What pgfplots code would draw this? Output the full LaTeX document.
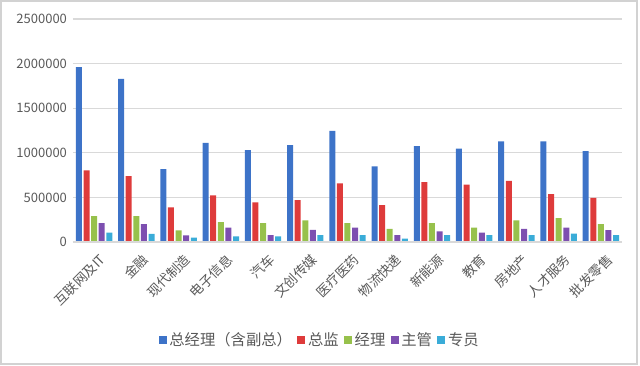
\documentclass[border=0pt]{standalone}
\usepackage{pgfplots}
\pgfplotsset{compat=1.18}
\usepackage{fontspec}
\setmainfont{Noto Sans CJK SC}
\definecolor{cblue}{HTML}{3D73C8}
\definecolor{cred}{HTML}{DE3B3B}
\definecolor{cgreen}{HTML}{97C14C}
\definecolor{cpurple}{HTML}{7D4FB0}
\definecolor{ccyan}{HTML}{3AACD8}
\definecolor{tickgray}{HTML}{595959}
\definecolor{gridgray}{HTML}{D9D9D9}
\begin{document}
\begin{tikzpicture}
\path[use as bounding box] (-54.75pt,-92.25pt) rectangle (425.25pt,181.5pt);
\draw[gray!35, line width=0.8pt] (-54pt,-91.5pt) rectangle (423pt,180.75pt);
\begin{axis}[
  at={(0,0)}, anchor=south west,
  scale only axis, width=411.75pt, height=167.25pt,
  ybar=1.2pt, bar width=4.5pt,
  xmin=-0.5, xmax=12.5,
  ymin=0, ymax=2500000,
  ytick={0,500000,1000000,1500000,2000000,2500000},
  scaled y ticks=false,
  /pgf/number format/.cd, fixed, set thousands separator={}, assume math mode=true,
  /pgfplots/.cd,
  xtick={0,...,12},
  xticklabels={互联网及IT,金融,现代制造,电子信息,汽车,文创传媒,医疗医药,物流快递,新能源,教育,房地产,人才服务,批发零售},
  xticklabel style={rotate=45, anchor=north east, font=\fontsize{10pt}{11pt}\selectfont, text=tickgray, inner sep=1pt, xshift=-2pt, yshift=-7pt},
  yticklabel style={font=\fontsize{9.75pt}{11pt}\selectfont, text=tickgray, xshift=-1pt},
  major tick length=0pt,
  ymajorgrids, grid style={gridgray, line width=0.8pt},
  axis line style={draw=none},
  axis x line*=bottom, axis y line*=left,
  enlarge x limits=false,
  legend columns=5,
  legend style={draw=none, fill=none, at={(0.45,-0.439)}, anchor=center,
    font=\fontsize{11.5pt}{13pt}\selectfont, text=tickgray,
    /tikz/every even column/.append style={column sep=2pt}},
  legend image code/.code={\fill[#1] (0pt,-3pt) rectangle (6pt,3pt);},
  every axis plot/.append style={draw=none},
]
\addplot[fill=cblue] coordinates {(0,1960000) (1,1828000) (2,817000) (3,1112000) (4,1030000) (5,1086000) (6,1246000) (7,847000) (8,1075000) (9,1048000) (10,1127000) (11,1127000) (12,1019000)};
\addplot[fill=cred] coordinates {(0,802000) (1,739000) (2,388000) (3,522000) (4,444000) (5,470000) (6,657000) (7,414000) (8,672000) (9,642000) (10,686000) (11,537000) (12,496000)};
\addplot[fill=cgreen] coordinates {(0,291000) (1,291000) (2,131000) (3,224000) (4,213000) (5,243000) (6,213000) (7,146000) (8,213000) (9,160000) (10,243000) (11,269000) (12,201000)};
\addplot[fill=cpurple] coordinates {(0,213000) (1,201000) (2,75000) (3,160000) (4,78000) (5,136000) (6,160000) (7,78000) (8,119000) (9,104000) (10,146000) (11,160000) (12,134000)};
\addplot[fill=ccyan] coordinates {(0,104000) (1,90000) (2,48000) (3,63000) (4,63000) (5,78000) (6,78000) (7,37000) (8,78000) (9,78000) (10,78000) (11,93000) (12,78000)};
\legend{总经理（含副总）,总监,经理,主管,专员}
\draw[gridgray, line width=0.8pt] (rel axis cs:0,0) -- (rel axis cs:1,0);
\end{axis}
\end{tikzpicture}
\end{document}
